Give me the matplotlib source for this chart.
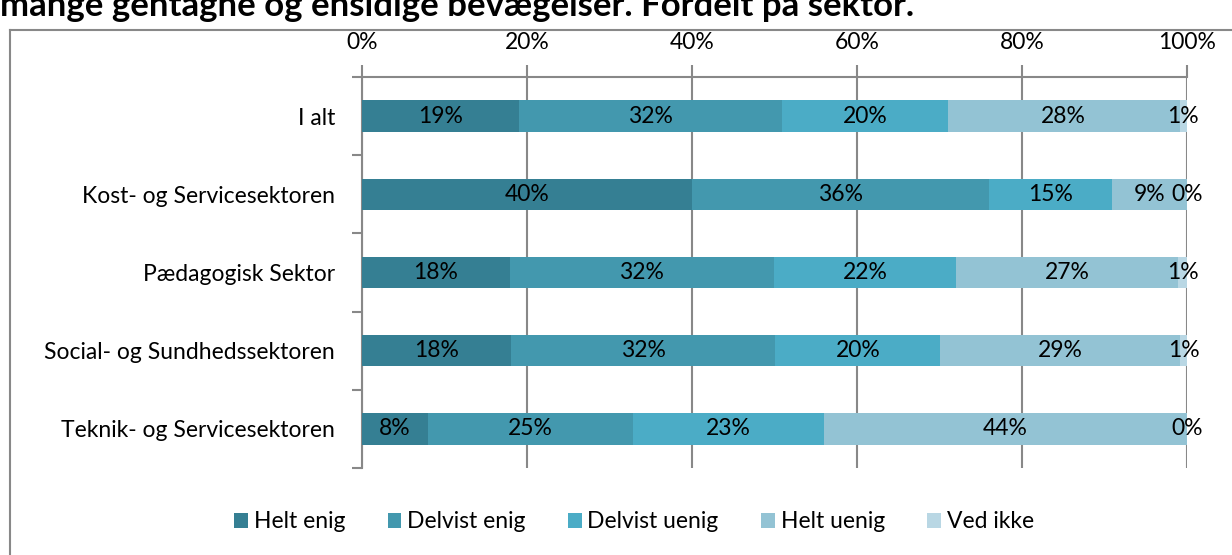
import matplotlib.pyplot as plt
from matplotlib.lines import Line2D
import numpy as np

plt.rcParams['font.family'] = ['Lato', 'DejaVu Sans']

categories = ['I alt', 'Kost- og Servicesektoren', 'Pædagogisk Sektor',
              'Social- og Sundhedssektoren', 'Teknik- og Servicesektoren']
series_names = ['Helt enig', 'Delvist enig', 'Delvist uenig', 'Helt uenig', 'Ved ikke']
helt_enig = [19.0, 40.0, 17.9, 18.1, 8.0]
delvist_enig = [31.9, 36.0, 32.0, 32.0, 24.8]
delvist_uenig = [20.1, 14.9, 22.1, 20.0, 23.2]
helt_uenig = [28.1, 9.1, 26.9, 29.05, 44.0]
ved_ikke = [0.9, 0.0, 1.1, 0.85, 0.0]
xtick_labels = ['0%', '20%', '40%', '60%', '80%', '100%']

colors = ['#357f93', '#4398ae', '#4bacc6', '#93c3d4', '#b9d7e4']
grid_col = '#888888'
fs = 16.5

fig = plt.figure(figsize=(12.32, 5.55), dpi=100)
ax = fig.add_axes([362 / 1232, 1 - 468 / 555, (1187 - 362) / 1232, (468 - 77) / 555])

y = np.arange(len(categories))
left = np.zeros(len(categories))
for name, vals, col in zip(series_names,
                           [helt_enig, delvist_enig, delvist_uenig, helt_uenig, ved_ikke],
                           colors):
    vals = np.array(vals)
    ax.barh(y, vals, left=left, height=0.4, color=col, label=name, zorder=3)
    for yi, l, v in zip(y, left, vals):
        ax.text(l + v / 2, yi, f'{round(v):.0f}%', ha='center', va='center',
                fontsize=fs, color='black', zorder=4)
    left = left + vals

ax.set_xlim(0, 100)
ax.set_ylim(len(categories) - 0.5, -0.5)
ax.set_xticks(np.arange(0, 101, 20))
ax.set_xticklabels(xtick_labels, fontsize=fs)
ax.xaxis.tick_top()
ax.tick_params(axis='x', direction='out', length=9, width=1.5, color=grid_col, pad=8)
ax.set_yticks(y)
ax.set_yticklabels(categories, fontsize=fs)
ax.set_yticks(np.arange(-0.5, len(categories)), minor=True)
ax.tick_params(axis='y', which='major', length=0, pad=19.5)
ax.tick_params(axis='y', which='minor', direction='out', length=7, width=1.5, color=grid_col)
ax.grid(axis='x', color=grid_col, linewidth=1.5, zorder=0)
for s in ['right', 'bottom']:
    ax.spines[s].set_visible(False)
for s in ['left', 'top']:
    ax.spines[s].set_color(grid_col)
    ax.spines[s].set_linewidth(1.5)

# outer chart border (partly cropped)
fig.add_artist(Line2D([10 / 1232, 1.0], [1 - 30 / 555, 1 - 30 / 555], color=grid_col, lw=1.5))
fig.add_artist(Line2D([10 / 1232, 10 / 1232], [0, 1 - 30 / 555], color=grid_col, lw=1.5))

# cropped title
fig.text(0, 1 - 16 / 555, 'mange gentagne og ensidige bevægelser. Fordelt på sektor.',
         fontsize=25, fontweight='bold', ha='left', va='baseline')

handles, labels = ax.get_legend_handles_labels()
fig.legend(handles, labels, loc='center', bbox_to_anchor=(634 / 1232, 1 - 522 / 555),
           ncol=5, frameon=False, fontsize=fs, handlelength=0.6, handleheight=0.6,
           handletextpad=0.25, columnspacing=1.85)

fig.savefig('out.png', dpi=100)
